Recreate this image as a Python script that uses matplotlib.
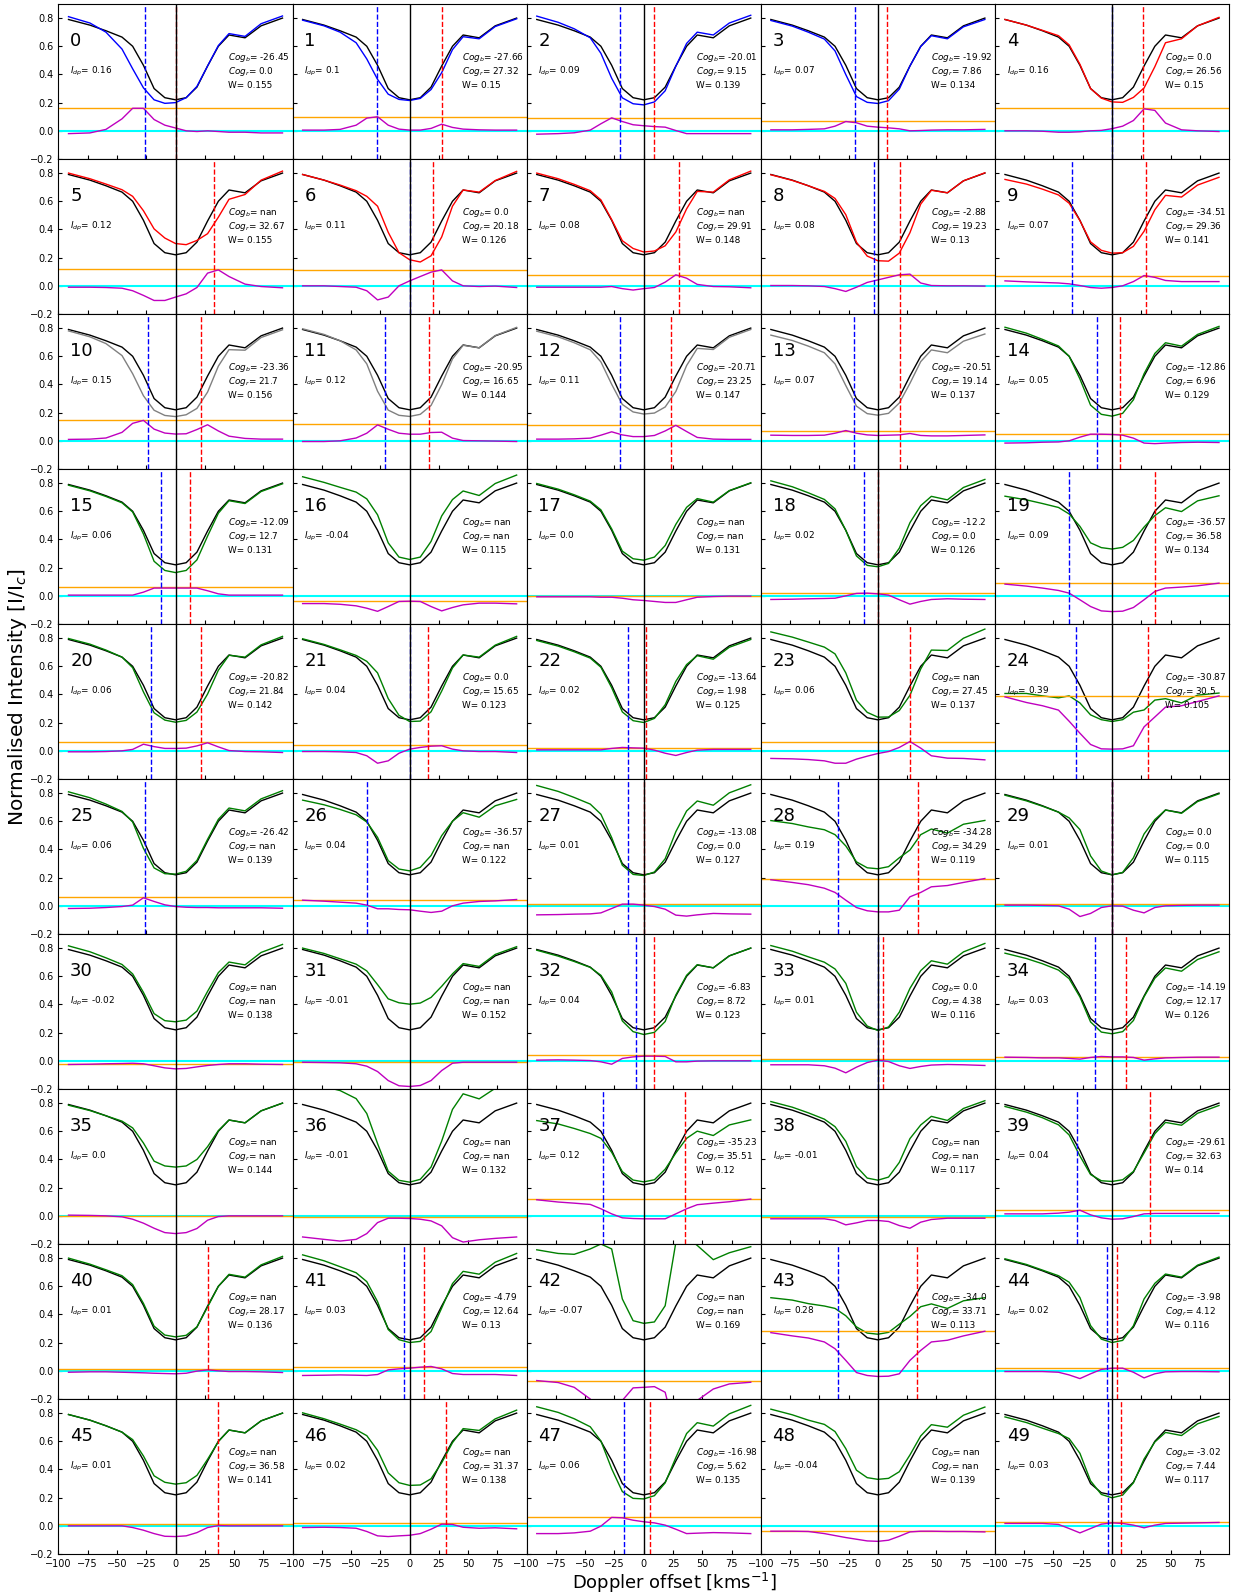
import numpy as np
import matplotlib.pyplot as plt

# velocity grid (km/s) and the reference (black) profile shared by all panels
vel = [-91.4, -73.1, -59.4, -45.7, -36.6, -27.4, -18.3, -9.1, 0.0,
       9.1, 18.3, 27.4, 36.6, 45.7, 59.4, 73.1, 91.4]
ref = [0.79, 0.75, 0.71, 0.665, 0.60, 0.465, 0.30, 0.235, 0.22,
       0.235, 0.31, 0.46, 0.60, 0.68, 0.66, 0.745, 0.80]

prof_colors = ['b'] * 4 + ['r'] * 6 + ['gray'] * 4 + ['g'] * 36

idp = [0.16, 0.1, 0.09, 0.07, 0.16, 0.12, 0.11, 0.08, 0.08, 0.07,
       0.15, 0.12, 0.11, 0.07, 0.05, 0.06, -0.04, 0.0, 0.02, 0.09,
       0.06, 0.04, 0.02, 0.06, 0.39, 0.06, 0.04, 0.01, 0.19, 0.01,
       -0.02, -0.01, 0.04, 0.01, 0.03, 0.0, -0.01, 0.12, -0.01, 0.04,
       0.01, 0.03, -0.07, 0.28, 0.02, 0.01, 0.02, 0.06, -0.04, 0.03]

nan = float('nan')
cog_b = [-26.45, -27.66, -20.01, -19.92, 0.0, nan, 0.0, nan, -2.88, -34.51,
         -23.36, -20.95, -20.71, -20.51, -12.86, -12.09, nan, nan, -12.2, -36.57,
         -20.82, 0.0, -13.64, nan, -30.87, -26.42, -36.57, -13.08, -34.28, 0.0,
         nan, nan, -6.83, 0.0, -14.19, nan, nan, -35.23, nan, -29.61,
         nan, -4.79, nan, -34.0, -3.98, nan, nan, -16.98, nan, -3.02]
cog_r = [0.0, 27.32, 9.15, 7.86, 26.56, 32.67, 20.18, 29.91, 19.23, 29.36,
         21.7, 16.65, 23.25, 19.14, 6.96, 12.7, nan, nan, 0.0, 36.58,
         21.84, 15.65, 1.98, 27.45, 30.5, nan, nan, 0.0, 34.29, 0.0,
         nan, nan, 8.72, 4.38, 12.17, nan, nan, 35.51, nan, 32.63,
         28.17, 12.64, nan, 33.71, 4.12, 36.58, 31.37, 5.62, nan, 7.44]
wval = [0.155, 0.15, 0.139, 0.134, 0.15, 0.155, 0.126, 0.148, 0.13, 0.141,
        0.156, 0.144, 0.147, 0.137, 0.129, 0.131, 0.115, 0.131, 0.126, 0.134,
        0.142, 0.123, 0.125, 0.137, 0.105, 0.139, 0.122, 0.127, 0.119, 0.115,
        0.138, 0.152, 0.123, 0.116, 0.126, 0.144, 0.132, 0.12, 0.117, 0.14,
        0.136, 0.13, 0.169, 0.113, 0.116, 0.141, 0.138, 0.135, 0.139, 0.117]

# residual (reference minus panel profile), one list per panel
resid = [
    [-0.02, -0.015, 0.01, 0.085, 0.16, 0.16, 0.08, 0.04, 0.02, 0.0, -0.005, 0.0, -0.005, -0.01, -0.01, -0.015, -0.015],  # 0
    [0.005, 0.005, 0.01, 0.04, 0.09, 0.10, 0.04, 0.012, 0.005, 0.005, 0.017, 0.047, 0.024, 0.012, 0.007, 0.005, 0.005],  # 1
    [-0.024, -0.02, -0.014, 0.005, 0.05, 0.092, 0.066, 0.043, 0.036, 0.03, 0.026, 0.002, -0.02, -0.02, -0.02, -0.02, -0.02],  # 2
    [0.007, 0.007, 0.01, 0.014, 0.033, 0.066, 0.057, 0.033, 0.026, 0.021, 0.014, 0.0, 0.002, 0.005, 0.007, 0.007, 0.01],  # 3
    [0.0, 0.0, -0.003, -0.01, -0.01, -0.007, 0.0, 0.003, 0.015, 0.033, 0.073, 0.156, 0.145, 0.055, 0.007, 0.0, -0.005],  # 4
    [-0.01, -0.01, -0.012, -0.017, -0.035, -0.068, -0.104, -0.104, -0.08, -0.057, -0.012, 0.09, 0.113, 0.066, 0.012, -0.005, -0.014],  # 5
    [0.0, 0.0, -0.005, -0.01, -0.035, -0.1, -0.08, 0.0, 0.035, 0.066, 0.097, 0.113, 0.035, 0.0, -0.005, -0.002, -0.012],  # 6
    [-0.01, -0.01, -0.01, -0.01, -0.01, -0.005, -0.02, -0.03, -0.02, -0.012, 0.026, 0.078, 0.054, 0.01, -0.005, -0.007, -0.014],  # 7
    [0.002, 0.002, 0.0, -0.005, -0.02, -0.04, -0.01, 0.024, 0.042, 0.06, 0.078, 0.083, 0.02, 0.002, 0.0, 0.0, -0.002],  # 8
    [0.035, 0.028, 0.024, 0.02, 0.014, 0.002, -0.012, -0.017, -0.012, 0.0, 0.03, 0.073, 0.06, 0.038, 0.03, 0.03, 0.03],  # 9
    [0.01, 0.012, 0.02, 0.06, 0.124, 0.145, 0.083, 0.055, 0.048, 0.05, 0.08, 0.114, 0.07, 0.033, 0.017, 0.012, 0.012],  # 10
    [-0.005, -0.005, 0.0, 0.02, 0.054, 0.113, 0.082, 0.054, 0.047, 0.047, 0.059, 0.061, 0.019, 0.002, 0.0, -0.002, -0.005],  # 11
    [0.012, 0.012, 0.014, 0.019, 0.04, 0.064, 0.042, 0.03, 0.03, 0.038, 0.07, 0.11, 0.066, 0.024, 0.012, 0.01, 0.01],  # 12
    [0.04, 0.038, 0.038, 0.04, 0.054, 0.073, 0.054, 0.042, 0.038, 0.04, 0.042, 0.052, 0.038, 0.035, 0.035, 0.038, 0.042],  # 13
    [-0.016, -0.014, -0.01, -0.008, 0.0, 0.026, 0.047, 0.047, 0.045, 0.04, 0.019, -0.016, -0.02, -0.016, -0.012, -0.01, -0.012],  # 14
    [0.005, 0.005, 0.005, 0.005, 0.005, 0.026, 0.055, 0.055, 0.055, 0.055, 0.055, 0.036, 0.014, 0.005, 0.005, 0.005, 0.005],  # 15
    [-0.055, -0.055, -0.06, -0.071, -0.088, -0.11, -0.076, -0.04, -0.038, -0.04, -0.076, -0.107, -0.083, -0.064, -0.052, -0.052, -0.057],  # 16
    [-0.007, -0.007, -0.007, -0.007, -0.01, -0.01, -0.017, -0.028, -0.033, -0.04, -0.047, -0.047, -0.028, -0.01, -0.005, -0.002, -0.002],  # 17
    [-0.026, -0.024, -0.021, -0.019, -0.017, 0.0, 0.017, 0.019, 0.014, 0.005, -0.028, -0.059, -0.04, -0.026, -0.021, -0.024, -0.026],  # 18
    [0.083, 0.069, 0.055, 0.038, 0.019, -0.028, -0.076, -0.107, -0.112, -0.109, -0.083, -0.028, 0.031, 0.055, 0.062, 0.071, 0.09],  # 19
    [-0.007, -0.007, -0.005, 0.0, 0.01, 0.047, 0.03, 0.017, 0.017, 0.019, 0.035, 0.057, 0.028, 0.002, -0.005, -0.007, -0.012],  # 20
    [-0.005, -0.005, -0.007, -0.012, -0.035, -0.088, -0.071, -0.017, 0.012, 0.024, 0.033, 0.036, 0.012, 0.0, -0.005, -0.005, -0.012],  # 21
    [0.007, 0.007, 0.007, 0.007, 0.007, 0.017, 0.024, 0.021, 0.019, 0.005, -0.017, -0.033, -0.012, 0.005, 0.01, 0.01, 0.01],  # 22
    [-0.054, -0.057, -0.062, -0.071, -0.088, -0.088, -0.059, -0.038, -0.019, -0.005, 0.024, 0.066, 0.019, -0.035, -0.052, -0.054, -0.064],  # 23
    [0.383, 0.343, 0.32, 0.289, 0.21, 0.125, 0.045, 0.014, 0.012, 0.014, 0.036, 0.17, 0.24, 0.31, 0.32, 0.35, 0.39],  # 24
    [-0.019, -0.017, -0.012, -0.005, 0.005, 0.057, 0.031, 0.007, -0.005, -0.01, -0.012, -0.012, -0.014, -0.014, -0.014, -0.014, -0.017],  # 25
    [0.04, 0.033, 0.026, 0.019, 0.005, -0.021, -0.021, -0.026, -0.028, -0.038, -0.047, -0.038, 0.0, 0.019, 0.031, 0.035, 0.045],  # 26
    [-0.064, -0.062, -0.059, -0.057, -0.05, -0.019, 0.012, 0.012, 0.005, -0.005, -0.024, -0.066, -0.073, -0.064, -0.054, -0.057, -0.059],  # 27
    [0.185, 0.166, 0.15, 0.125, 0.095, 0.04, -0.012, -0.035, -0.043, -0.043, -0.031, 0.064, 0.095, 0.135, 0.144, 0.166, 0.194],  # 28
    [0.005, 0.005, 0.003, 0.0, -0.024, -0.076, -0.054, -0.012, 0.0, -0.002, -0.031, -0.05, -0.012, 0.0, 0.003, 0.005, 0.005],  # 29
    [-0.026, -0.024, -0.021, -0.019, -0.017, -0.021, -0.035, -0.05, -0.057, -0.054, -0.043, -0.033, -0.026, -0.021, -0.021, -0.024, -0.026],  # 30
    [-0.01, -0.012, -0.014, -0.021, -0.038, -0.076, -0.14, -0.177, -0.182, -0.175, -0.14, -0.069, -0.017, -0.01, -0.01, -0.01, -0.01],  # 31
    [0.005, 0.007, 0.005, 0.002, -0.007, -0.024, 0.017, 0.028, 0.033, 0.033, 0.031, -0.007, -0.007, -0.002, 0.0, 0.0, 0.0],  # 32
    [-0.028, -0.028, -0.028, -0.035, -0.052, -0.085, -0.045, -0.012, 0.005, -0.005, -0.035, -0.054, -0.04, -0.03, -0.026, -0.028, -0.033],  # 33
    [0.026, 0.024, 0.021, 0.021, 0.017, 0.012, 0.024, 0.031, 0.028, 0.028, 0.024, 0.005, 0.014, 0.021, 0.024, 0.026, 0.026],  # 34
    [0.005, 0.003, 0.0, -0.007, -0.024, -0.052, -0.088, -0.119, -0.126, -0.119, -0.09, -0.031, -0.005, 0.0, 0.0, 0.0, 0.0],  # 35
    [-0.15, -0.167, -0.179, -0.167, -0.126, -0.048, -0.017, -0.017, -0.019, -0.024, -0.036, -0.071, -0.155, -0.186, -0.17, -0.16, -0.15],  # 36
    [0.114, 0.098, 0.09, 0.081, 0.05, 0.014, -0.014, -0.019, -0.021, -0.021, -0.021, 0.014, 0.05, 0.079, 0.09, 0.1, 0.119],  # 37
    [-0.021, -0.021, -0.021, -0.021, -0.033, -0.064, -0.05, -0.033, -0.033, -0.04, -0.069, -0.088, -0.045, -0.026, -0.017, -0.017, -0.017],  # 38
    [0.014, 0.014, 0.014, 0.019, 0.026, 0.04, 0.007, -0.014, -0.024, -0.021, -0.005, 0.014, 0.017, 0.017, 0.017, 0.017, 0.017],  # 39
    [-0.01, -0.007, -0.007, -0.01, -0.012, -0.014, -0.017, -0.019, -0.021, -0.017, -0.002, 0.007, 0.0, -0.005, -0.005, -0.007, -0.012],  # 40
    [-0.033, -0.031, -0.029, -0.031, -0.033, -0.026, 0.007, 0.014, 0.019, 0.026, 0.031, 0.014, -0.019, -0.026, -0.026, -0.026, -0.033],  # 41
    [-0.069, -0.083, -0.117, -0.2, -0.3, -0.4, -0.21, -0.121, -0.117, -0.112, -0.152, -0.45, -0.35, -0.21, -0.129, -0.093, -0.081],  # 42
    [0.271, 0.248, 0.233, 0.205, 0.157, 0.074, -0.012, -0.033, -0.04, -0.038, -0.021, 0.074, 0.145, 0.205, 0.217, 0.248, 0.281],  # 43
    [-0.005, -0.005, -0.005, -0.01, -0.029, -0.055, -0.021, 0.01, 0.019, 0.019, -0.01, -0.05, -0.021, -0.007, -0.005, -0.005, -0.007],  # 44
    [0.0, 0.0, 0.0, 0.0, -0.012, -0.031, -0.055, -0.074, -0.076, -0.071, -0.048, -0.012, 0.002, 0.0, 0.0, 0.0, 0.0],  # 45
    [-0.012, -0.01, -0.012, -0.017, -0.04, -0.071, -0.076, -0.071, -0.067, -0.055, -0.024, 0.012, 0.01, -0.01, -0.017, -0.014, -0.021],  # 46
    [-0.055, -0.055, -0.05, -0.038, -0.002, 0.06, 0.057, 0.04, 0.029, 0.021, 0.005, -0.024, -0.055, -0.052, -0.048, -0.05, -0.055],  # 47
    [-0.038, -0.038, -0.04, -0.055, -0.069, -0.083, -0.095, -0.107, -0.11, -0.102, -0.074, -0.043, -0.038, -0.038, -0.04, -0.04, -0.043],  # 48
    [0.017, 0.017, 0.017, 0.01, -0.019, -0.05, -0.019, 0.012, 0.021, 0.017, 0.005, -0.014, 0.005, 0.017, 0.019, 0.021, 0.024],  # 49
]

xticks = [-100, -75, -50, -25, 0, 25, 50, 75]
yticks = [-0.2, 0.0, 0.2, 0.4, 0.6, 0.8]

fig, axes = plt.subplots(10, 5, figsize=(12.33, 15.96), dpi=100, sharex=True, sharey=True)
fig.subplots_adjust(left=0.0474, right=0.9968, top=0.9975, bottom=0.0263, wspace=0, hspace=0)

ref_arr = np.array(ref)
for i, ax in enumerate(axes.flat):
    res = np.array(resid[i])
    prof = ref_arr - res
    ax.plot(vel, ref, color='k', lw=1.0)
    ax.plot(vel, prof, color=prof_colors[i], lw=1.0)
    ax.axhline(0, color='cyan', lw=1.5)
    ax.axhline(idp[i], color='orange', lw=1.0)
    ax.plot(vel, res, color='m', lw=1.0)
    if not np.isnan(cog_b[i]):
        ax.axvline(cog_b[i], color='b', ls='--', lw=1.0)
    if not np.isnan(cog_r[i]):
        ax.axvline(cog_r[i], color='r', ls='--', lw=1.0)
    ax.axvline(0, color='k', lw=1.0)

    ax.text(-90, 0.6, str(i), fontsize=13)
    ax.text(-90, 0.42, rf'$I_{{dp}}$= {idp[i]}', fontsize=6.4, va='center')
    ax.text(45, 0.52, rf'$Cog_b$= {cog_b[i]}', fontsize=6.4, va='center')
    ax.text(45, 0.42, rf'$Cog_r$= {cog_r[i]}', fontsize=6.4, va='center')
    ax.text(45, 0.32, f'W= {wval[i]}', fontsize=6.4, va='center')

    ax.set_xlim(-100, 100)
    ax.set_ylim(-0.2, 0.9)
    ax.set_xticks(xticks)
    ax.set_yticks(yticks)
    ax.tick_params(direction='in', length=3, labelsize=7)

fig.text(0.0145, 0.563, 'Normalised Intensity [I/I$_c$]', rotation=90,
         ha='center', va='center', fontsize=14.5)
fig.text(0.547, 0.008, 'Doppler offset [kms$^{-1}$]', ha='center', va='center', fontsize=13)

fig.savefig('out.png', dpi=100)
